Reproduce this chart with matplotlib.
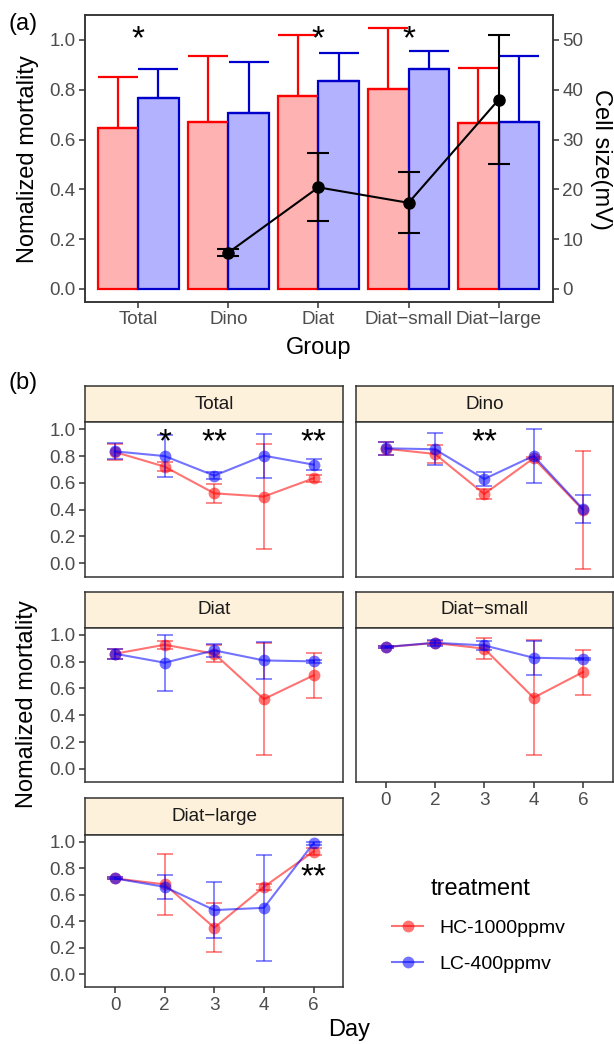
import matplotlib
matplotlib.use("Agg")
import matplotlib.pyplot as plt
from matplotlib.lines import Line2D
import numpy as np

plt.rcParams['font.family'] = ['Liberation Sans', 'DejaVu Sans']

# ---- panel (a) data ----
groups = ["Total", "Dino", "Diat", "Diat\u2212small", "Diat\u2212large"]
bar_hc = [0.645, 0.671, 0.775, 0.802, 0.667]
bar_hc_sd = [0.205, 0.265, 0.246, 0.246, 0.222]
bar_lc = [0.766, 0.705, 0.834, 0.885, 0.671]
bar_lc_sd = [0.116, 0.205, 0.112, 0.071, 0.263]
bar_sig = ["*", "", "*", "*", ""]

cell_groups = ["Dino", "Diat", "Diat\u2212small", "Diat\u2212large"]
cell_size = [7.3, 20.4, 17.3, 38.0]
cell_sd = [0.7, 6.8, 6.1, 13.0]

# ---- panel (b) data ----
days = ["0", "2", "3", "4", "6"]
facets = ["Total", "Dino", "Diat", "Diat\u2212small", "Diat\u2212large"]
hc_mean = {
    "Total":      [0.830, 0.721, 0.522, 0.498, 0.634],
    "Dino":       [0.855, 0.816, 0.517, 0.784, 0.398],
    "Diat":       [0.858, 0.925, 0.858, 0.520, 0.697],
    "Diat\u2212small": [0.908, 0.938, 0.896, 0.530, 0.721],
    "Diat\u2212large": [0.722, 0.677, 0.350, 0.658, 0.925],
}
hc_sd = {
    "Total":      [0.060, 0.032, 0.072, 0.390, 0.028],
    "Dino":       [0.048, 0.064, 0.037, 0.006, 0.440],
    "Diat":       [0.038, 0.029, 0.065, 0.420, 0.170],
    "Diat\u2212small": [0.005, 0.012, 0.077, 0.430, 0.167],
    "Diat\u2212large": [0.008, 0.230, 0.185, 0.025, 0.030],
}
lc_mean = {
    "Total":      [0.835, 0.800, 0.654, 0.803, 0.736],
    "Dino":       [0.858, 0.851, 0.629, 0.801, 0.405],
    "Diat":       [0.858, 0.791, 0.883, 0.808, 0.801],
    "Diat\u2212small": [0.908, 0.940, 0.920, 0.828, 0.821],
    "Diat\u2212large": [0.722, 0.658, 0.483, 0.500, 0.988],
}
lc_sd = {
    "Total":      [0.060, 0.155, 0.025, 0.165, 0.042],
    "Dino":       [0.048, 0.118, 0.050, 0.200, 0.106],
    "Diat":       [0.038, 0.210, 0.047, 0.137, 0.010],
    "Diat\u2212small": [0.005, 0.024, 0.031, 0.125, 0.008],
    "Diat\u2212large": [0.008, 0.092, 0.212, 0.400, 0.012],
}
# significance marks: (day, label, y)
sig_marks = {
    "Total": [("2", "*", 0.95), ("3", "**", 0.95), ("6", "**", 0.95)],
    "Dino": [("3", "**", 0.95)],
    "Diat\u2212large": [("6", "**", 0.78)],
}
treatments = ["HC-1000ppmv", "LC-400ppmv"]

W, H = 614, 1044
fig = plt.figure(figsize=(W / 100, H / 100), dpi=100)

def box(l, t, r, b):
    return [l / W, 1 - b / H, (r - l) / W, (b - t) / H]

border = "#333333"
tickcol = "#4D4D4D"
red = "#FF0000"
blue = "#0000FF"
bar_edge_blue = "#0000CC"
star_fs = 24

def style_frame(ax):
    for s in ax.spines.values():
        s.set_color(border)
        s.set_linewidth(1.1)

# ================= panel (a) =================
ax = fig.add_axes(box(85, 15, 552.7, 301.7))
x = np.arange(len(groups))
bw = 0.45
ax.bar(x - bw / 2, bar_hc, bw, color=(1, 0, 0, 0.3), edgecolor=red, linewidth=1.6, zorder=2)
ax.bar(x + bw / 2, bar_lc, bw, color=(0, 0, 1, 0.3), edgecolor=bar_edge_blue, linewidth=1.6, zorder=2)
ax.errorbar(x - bw / 2, bar_hc, yerr=[np.zeros(len(x)), bar_hc_sd], fmt='none',
            ecolor=red, elinewidth=1.6, capsize=14.5, capthick=1.6, zorder=3)
ax.errorbar(x + bw / 2, bar_lc, yerr=[np.zeros(len(x)), bar_lc_sd], fmt='none',
            ecolor=bar_edge_blue, elinewidth=1.6, capsize=14.5, capthick=1.6, zorder=3)
for i, s in enumerate(bar_sig):
    if s:
        ax.annotate(s, (x[i], 1.03), xytext=(0, -0.47 * star_fs), textcoords='offset points',
                    ha='center', va='baseline', fontsize=star_fs, color='black')
ax.set_xlim(-0.59, 4.6)
ax.set_ylim(-0.051, 1.10)
ax.set_xticks(x)
ax.set_xticklabels(groups)
ax.set_yticks([0, 0.2, 0.4, 0.6, 0.8, 1.0])
ax.set_yticklabels(["0.0", "0.2", "0.4", "0.6", "0.8", "1.0"])
ax.tick_params(axis='both', length=4.5, width=1.1, color=border, labelcolor=tickcol,
               labelsize=13.6, pad=2.5)
style_frame(ax)

ax2 = ax.twinx()
xc = [groups.index(g) for g in cell_groups]
ax2.errorbar(xc, cell_size, yerr=cell_sd, fmt='none', ecolor='black', elinewidth=1.5,
             capsize=7.6, capthick=1.5, zorder=4)
ax2.plot(xc, cell_size, color='black', lw=1.5, marker='o', ms=8, zorder=5)
ax2.set_ylim(-0.051 * 50, 1.10 * 50)
ax2.set_yticks([0, 10, 20, 30, 40, 50])
ax2.tick_params(axis='y', length=4.5, width=1.1, color=border, labelcolor=tickcol,
                labelsize=13.6, pad=2.5)
style_frame(ax2)

fig.text(8 / W, 1 - 24 / H, "(a)", fontsize=17, ha='left', va='center')
fig.text(28 / W, 1 - 159 / H, "Nomalized mortality", fontsize=17, rotation=90,
         ha='center', va='center')
fig.text(601 / W, 1 - 159 / H, "Cell size(mV)", fontsize=17, rotation=-90,
         ha='center', va='center')
fig.text(318.8 / W, 1 - 348 / H, "Group", fontsize=17, ha='center', va='center')

# ================= panel (b) =================
cols = [(85.3, 343.3), (356, 612.5)]
rows = [(386, 422.3, 576.7), (591.7, 627.7, 782.3), (797.7, 834.7, 987.3)]
xd = np.arange(len(days))
alpha = 0.55

for i, f in enumerate(facets):
    l, r = cols[i % 2]
    st, sb, pb = rows[i // 2]
    sax = fig.add_axes(box(l, st, r, sb))
    sax.set_facecolor("#FDF1DC")
    sax.set_xticks([])
    sax.set_yticks([])
    style_frame(sax)
    sax.text(0.5, 0.5, f, transform=sax.transAxes, ha='center', va='center',
             fontsize=13.6, color="#1A1A1A")

    pax = fig.add_axes(box(l, sb, r, pb))
    for mean, sd, c in [(hc_mean[f], hc_sd[f], red), (lc_mean[f], lc_sd[f], blue)]:
        pax.errorbar(xd, mean, yerr=sd, fmt='none', ecolor=c, alpha=alpha,
                     elinewidth=1.2, capsize=5.5, capthick=1.2)
        pax.plot(xd, mean, color=c, alpha=alpha, lw=1.5)
        pax.plot(xd, mean, 'o', color=c, alpha=alpha, ms=8.5, mec='none')
    for d, s, y in sig_marks.get(f, []):
        pax.annotate(s, (days.index(d), y), xytext=(0, -0.47 * star_fs), textcoords='offset points',
                     ha='center', va='baseline', fontsize=star_fs, color='black')
    pax.set_xlim(-0.6, 4.6)
    pax.set_ylim(-0.10, 1.052)
    pax.set_xticks(xd)
    pax.set_xticklabels(days)
    pax.set_yticks([0, 0.2, 0.4, 0.6, 0.8, 1.0])
    pax.set_yticklabels(["0.0", "0.2", "0.4", "0.6", "0.8", "1.0"])
    pax.tick_params(axis='both', length=4.5, width=1.1, color=border, labelcolor=tickcol,
                    labelsize=13.6, pad=2.5)
    if i % 2 == 1:
        pax.tick_params(axis='y', left=False, labelleft=False)
    if i not in (3, 4):
        pax.tick_params(axis='x', bottom=False, labelbottom=False)
    style_frame(pax)

fig.text(8 / W, 1 - 383 / H, "(b)", fontsize=17, ha='left', va='center')
fig.text(27 / W, 1 - 704 / H, "Nomalized mortality", fontsize=17, rotation=90,
         ha='center', va='center')
fig.text(349 / W, 1 - 1030 / H, "Day", fontsize=17, ha='center', va='center')

handles = [Line2D([], [], color=c, alpha=alpha, lw=1.5, marker='o', ms=8.5, mec='none')
           for c in (red, blue)]
fig.legend(handles, treatments, loc='upper left', bbox_to_anchor=(392 / W, 1 - 919 / H),
           frameon=False, fontsize=14, handlelength=1.6, handletextpad=0.85,
           labelspacing=0.95, borderpad=0, borderaxespad=0)
fig.text(431 / W, 1 - 889 / H, "treatment", fontsize=17, ha='left', va='center')

fig.savefig("out.png", dpi=100)
